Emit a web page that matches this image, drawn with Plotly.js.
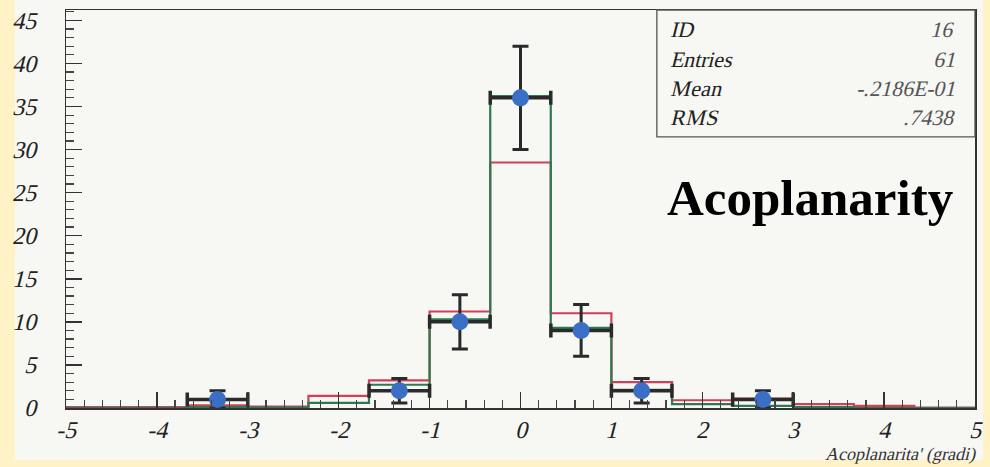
<!DOCTYPE html>
<html>
<head>
<meta charset="utf-8">
<script src="https://cdn.plot.ly/plotly-3.0.1.min.js"></script>
<style>
  @font-face { font-family: 'SerifSlant'; src: local('Liberation Serif'), local('LiberationSerif'); font-style: normal; font-weight: normal; }
  html, body { margin: 0; padding: 0; background: #FEF2C6; width: 990px; height: 467px; overflow: hidden; }
  #chart { position: absolute; left: 0px; top: 0px; width: 983px; height: 467px; }
</style>
</head>
<body>
<div id="chart"></div>
<script>
// Histogram bin edges (15 bins from -5 to 5)
const binEdges = [-5, -4.333, -3.667, -3, -2.333, -1.667, -1, -0.333, 0.333, 1, 1.667, 2.333, 3, 3.667, 4.333, 5];
// Simulation histograms (normalised), one value per bin
const mcRed   = [0.1, 0.1, 0.3, 0.15, 1.4, 3.2, 11.2, 28.5, 11.0, 3.0, 0.9, 1.1, 0.45, 0.25, 0.05];
const mcGreen = [0, 0, 0.1, 0.05, 0.6, 2.7, 10.3, 36.2, 9.3, 2.1, 0.45, 0.25, 0.1, 0, 0];
// Data points
const dataX    = [-3.333, -1.333, -0.667, 0, 0.667, 1.333, 2.667];
const dataY    = [1, 2, 10, 36, 9, 2, 1];
const dataErrY = [1, 1.41, 3.16, 6, 3, 1.41, 1];
const dataErrX = [0.333, 0.333, 0.333, 0.333, 0.333, 0.333, 0.333];
// Axis ticks
const xTicks = [-5, -4, -3, -2, -1, 0, 1, 2, 3, 4, 5];
const yTicks = [0, 5, 10, 15, 20, 25, 30, 35, 40, 45];
// Stats box
const statLabels = ["ID", "Entries", "Mean", "RMS"];
const statValues = ["16", "61", "-.2186E-01", ".7438"];

function stepTrace(vals, color) {
  const ys = vals.concat([vals[vals.length - 1]]);
  return {
    x: binEdges, y: ys, type: 'scatter', mode: 'lines',
    line: { shape: 'hv', color: color, width: 2.2 },
    hoverinfo: 'skip', showlegend: false
  };
}

const traces = [
  stepTrace(mcRed, '#D0405A'),
  stepTrace(mcGreen, '#2E7A50'),
  {
    x: dataX, y: dataY, type: 'scatter', mode: 'markers',
    marker: { color: '#3B6FC6', size: 17, line: { width: 0 } },
    error_y: { type: 'data', array: dataErrY, visible: true, color: '#2A2A2A', thickness: 3, width: 8 },
    error_x: { type: 'data', array: dataErrX, visible: true, color: '#2A2A2A', thickness: 3.5, width: 7 },
    showlegend: false, hoverinfo: 'skip'
  }
];

const serif = '"Liberation Serif", "Times New Roman", Times, serif';
const serifIt = 'SerifSlant, "Liberation Serif", serif';
const annotations = [];
const rowY = [0.950, 0.876, 0.803, 0.731];
statLabels.forEach((t, i) => {
  annotations.push({ xref: 'paper', yref: 'paper', x: 0.662, y: rowY[i], xanchor: 'left', yanchor: 'middle',
    text: t, showarrow: false, font: { family: serifIt, size: 22, style: 'italic', color: '#222' } });
  annotations.push({ xref: 'paper', yref: 'paper', x: 0.980, y: rowY[i], xanchor: 'right', yanchor: 'middle',
    text: statValues[i], showarrow: false, font: { family: serifIt, size: 22, style: 'italic', color: '#555' } });
});
annotations.push({ xref: 'paper', yref: 'paper', x: 0.8185, y: 0.528, xanchor: 'center', yanchor: 'middle',
  text: 'Acoplanarity', showarrow: false, font: { family: serif, size: 51, weight: 'bold', color: '#000' } });
annotations.push({ xref: 'paper', yref: 'paper', x: 1.003, y: -0.1457, xanchor: 'right', yanchor: 'bottom',
  text: "Acoplanarita' (gradi)", showarrow: false, font: { family: serifIt, size: 18, style: 'italic', color: '#333' } });

const layout = {
  width: 983, height: 467,
  margin: { l: 66, r: 8, t: 10, b: 59 },
  paper_bgcolor: '#F7F7F3', plot_bgcolor: '#F7F7F3',
  showlegend: false,
  font: { family: serif },
  xaxis: {
    range: [-5, 5], tickvals: xTicks, ticktext: xTicks.map(String),
    ticks: 'inside', ticklen: 16, tickwidth: 1.5, tickcolor: '#333',
    minor: { dtick: 0.2, tick0: 0, ticks: 'inside', ticklen: 8, tickwidth: 1.2, tickcolor: '#444' },
    showline: true, linecolor: '#333', linewidth: 1.5, mirror: true,
    showgrid: false, zeroline: false, ticklabelstandoff: 0,
    tickfont: { family: serifIt, size: 24, style: 'italic', color: '#222' }
  },
  yaxis: {
    range: [0, 46.2], tickvals: yTicks, ticktext: yTicks.map(String),
    ticks: 'inside', ticklen: 16, tickwidth: 1.5, tickcolor: '#333',
    minor: { dtick: 1, tick0: 0, ticks: 'inside', ticklen: 8, tickwidth: 1.2, tickcolor: '#444' },
    showline: true, linecolor: '#333', linewidth: 1.5, mirror: true,
    showgrid: false, zeroline: false, ticklabelstandoff: 24,
    tickfont: { family: serifIt, size: 24, style: 'italic', color: '#222' }
  },
  shapes: [
    { type: 'rect', xref: 'paper', yref: 'paper', x0: 0.650, x1: 1.0, y0: 0.681, y1: 1.0,
      line: { color: '#555', width: 1.3 }, fillcolor: 'rgba(0,0,0,0)' },
    { type: 'rect', xref: 'paper', yref: 'paper', layer: 'below', x0: -0.0561, x1: 1.012, y0: -0.1307, y1: -0.16,
      line: { width: 0 }, fillcolor: '#FEF2C6' },
    { type: 'rect', xref: 'paper', yref: 'paper', layer: 'below', x0: -0.08, x1: -0.0561, y0: -0.16, y1: 1.03,
      line: { width: 0 }, fillcolor: '#FEF2C6' }
  ],
  annotations: annotations
};

document.fonts.load('italic 22px SerifSlant').catch(() => {}).then(() => {
  Plotly.newPlot('chart', traces, layout, { staticPlot: true, displayModeBar: false });
});
</script>
</body>
</html>
